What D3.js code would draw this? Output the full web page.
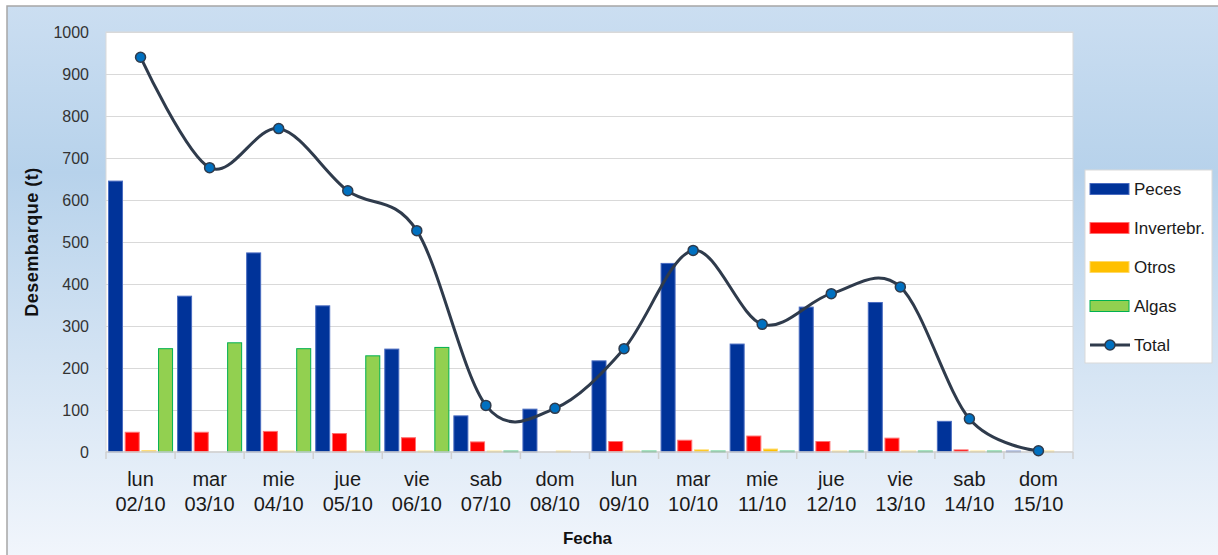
<!DOCTYPE html>
<html>
<head>
<meta charset="utf-8">
<script src="https://cdn.jsdelivr.net/npm/d3@7"></script>
<style>
  body { margin: 0; background: #fff; }
  text { font-family: "Liberation Sans", Arial, sans-serif; }
</style>
</head>
<body>
<div id="chart"></div>
<script>
// Chart dimensions
const width = 1218;
const height = 555;
const plotLeft = 106;
const plotRight = 1073;
const plotTop = 32;
const plotBottom = 452;

// Data
const days = ["lun", "mar", "mie", "jue", "vie", "sab", "dom", "lun", "mar", "mie", "jue", "vie", "sab", "dom"];
const dates = ["02/10", "03/10", "04/10", "05/10", "06/10", "07/10", "08/10", "09/10", "10/10", "11/10", "12/10", "13/10", "14/10", "15/10"];
const peces = [645, 371, 474, 348, 245, 86, 102, 217, 449, 257, 345, 356, 73, 2];
const invertebr = [47, 47, 49, 44, 34, 24, 0, 25, 28, 38, 25, 33, 5, 0];
const otros = [3, 0, 2, 2, 2, 2, 2, 2, 5, 7, 2, 2, 2, 2];
const algas = [246, 260, 246, 229, 249, 2, 0, 2, 2, 2, 2, 2, 2, 0];
const total = [940, 677, 770, 622, 527, 111, 104, 246, 480, 304, 377, 393, 79, 3];
const yTicks = [0, 100, 200, 300, 400, 500, 600, 700, 800, 900, 1000];

const seriesNames = ["Peces", "Invertebr.", "Otros", "Algas"];
const seriesValues = [peces, invertebr, otros, algas];
const seriesFill = ["#003399", "#ff0000", "#ffc000", "#92d050"];
const seriesStroke = ["#4a6cc0", "#ff7070", "#ffd966", "#00b050"];

const svg = d3.select("#chart")
  .append("svg")
  .attr("width", width)
  .attr("height", height)
  .attr("viewBox", [0, 0, width, height]);

// Background gradient of the chart area
const defs = svg.append("defs");
const grad = defs.append("linearGradient")
  .attr("id", "bg")
  .attr("x1", 0).attr("y1", 0).attr("x2", 0).attr("y2", 1);
grad.append("stop").attr("offset", "0%").attr("stop-color", "#cbdef1");
grad.append("stop").attr("offset", "30%").attr("stop-color", "#b7d2eb");
grad.append("stop").attr("offset", "100%").attr("stop-color", "#f2f6fc");

svg.append("rect")
  .attr("x", 7).attr("y", 6)
  .attr("width", width).attr("height", height)
  .attr("fill", "url(#bg)")
  .attr("stroke", "#a6a6a6")
  .attr("stroke-width", 1.5);

// Plot area
svg.append("rect")
  .attr("x", plotLeft).attr("y", plotTop)
  .attr("width", plotRight - plotLeft).attr("height", plotBottom - plotTop)
  .attr("fill", "#fff")
  .attr("stroke", "#d9d9d9");

// Scales
const x = d3.scaleBand()
  .domain(d3.range(days.length))
  .range([plotLeft, plotRight]);

const xInner = d3.scaleBand()
  .domain(seriesNames)
  .range([0, x.bandwidth()])
  .paddingInner(0.16)
  .paddingOuter(0.15);

const y = d3.scaleLinear()
  .domain([0, 1000])
  .range([plotBottom, plotTop]);

// Horizontal grid lines
svg.append("g")
  .selectAll("line")
  .data(yTicks.filter(d => d > 0))
  .join("line")
  .attr("x1", plotLeft)
  .attr("x2", plotRight)
  .attr("y1", d => y(d) + 0.5)
  .attr("y2", d => y(d) + 0.5)
  .attr("stroke", "#d9d9d9")
  .attr("stroke-width", 1.2);

// Y axis labels
const yAxis = svg.append("g")
  .attr("transform", `translate(${plotLeft},0)`)
  .call(d3.axisLeft(y).tickValues(yTicks).tickFormat(d3.format("d")).tickSize(0).tickPadding(17));
yAxis.select(".domain").remove();
yAxis.selectAll(".tick text")
  .attr("fill", "#333")
  .style("font-size", "16px")
  .style("font-family", "Liberation Sans, Arial, sans-serif");

// Bars
seriesNames.forEach((name, s) => {
  svg.append("g")
    .selectAll("rect")
    .data(seriesValues[s])
    .join("rect")
    .attr("x", (d, i) => x(i) + xInner(name))
    .attr("y", d => y(d))
    .attr("width", xInner.bandwidth())
    .attr("height", d => y(0) - y(d))
    .attr("fill", seriesFill[s])
    .attr("stroke", d => d > 0 ? seriesStroke[s] : "none")
    .attr("stroke-width", 1);
});

// X axis (category boundaries ticks)
const boundaries = d3.range(days.length + 1).map(i => plotLeft + i * x.step());
svg.append("line")
  .attr("x1", plotLeft).attr("x2", plotRight)
  .attr("y1", plotBottom).attr("y2", plotBottom)
  .attr("stroke", "#d0d0d0")
  .attr("stroke-width", 1.5);
svg.append("g")
  .selectAll("line")
  .data(boundaries)
  .join("line")
  .attr("x1", d => d).attr("x2", d => d)
  .attr("y1", plotBottom).attr("y2", plotBottom + 7)
  .attr("stroke", "#d0d0d0")
  .attr("stroke-width", 1.5);

const xLabels = svg.append("g")
  .selectAll("text")
  .data(days)
  .join("text")
  .attr("x", (d, i) => x(i) + x.bandwidth() / 2)
  .attr("text-anchor", "middle")
  .attr("fill", "#1a1a1a")
  .style("font-size", "20px");
xLabels.append("tspan").attr("x", (d, i) => x(i) + x.bandwidth() / 2).attr("y", 486).text(d => d);
xLabels.append("tspan").attr("x", (d, i) => x(i) + x.bandwidth() / 2).attr("y", 511).text((d, i) => dates[i]);

// Total line (smoothed)
const line = d3.line()
  .curve(d3.curveCardinal.tension(0))
  .x((d, i) => x(i) + x.bandwidth() / 2)
  .y(d => y(d));

svg.append("path")
  .datum(total)
  .attr("fill", "none")
  .attr("stroke", "#2f3b4c")
  .attr("stroke-width", 3)
  .attr("d", line);

svg.append("g")
  .selectAll("circle")
  .data(total)
  .join("circle")
  .attr("cx", (d, i) => x(i) + x.bandwidth() / 2)
  .attr("cy", d => y(d))
  .attr("r", 5)
  .attr("fill", "#0070c0")
  .attr("stroke", "#2f3b4c")
  .attr("stroke-width", 1.5);

// Axis titles
svg.append("text")
  .attr("transform", `translate(38, ${(plotTop + plotBottom) / 2}) rotate(-90)`)
  .attr("text-anchor", "middle")
  .attr("fill", "#111")
  .style("font-size", "18px")
  .style("letter-spacing", "0.5px")
  .style("font-weight", "bold")
  .text("Desembarque (t)");

svg.append("text")
  .attr("x", (plotLeft + plotRight) / 2 - 2)
  .attr("y", 544)
  .attr("text-anchor", "middle")
  .attr("fill", "#111")
  .style("font-size", "17px")
  .style("font-weight", "bold")
  .text("Fecha");

// Legend
const legend = svg.append("g");
legend.append("rect")
  .attr("x", 1085).attr("y", 170)
  .attr("width", 127).attr("height", 193)
  .attr("fill", "#fff")
  .attr("stroke", "#d9d9d9");

const legendY = d => 189 + d * 39;
seriesNames.forEach((name, s) => {
  legend.append("rect")
    .attr("x", 1090).attr("y", legendY(s) - 5.5)
    .attr("width", 39).attr("height", 11)
    .attr("fill", seriesFill[s])
    .attr("stroke", seriesStroke[s]);
  legend.append("text")
    .attr("x", 1134).attr("y", legendY(s) + 6)
    .attr("fill", "#1a1a1a")
    .style("font-size", "17px")
    .text(name);
});
legend.append("line")
  .attr("x1", 1090).attr("x2", 1130)
  .attr("y1", legendY(4)).attr("y2", legendY(4))
  .attr("stroke", "#2f3b4c").attr("stroke-width", 3);
legend.append("circle")
  .attr("cx", 1110).attr("cy", legendY(4)).attr("r", 5)
  .attr("fill", "#0070c0").attr("stroke", "#2f3b4c").attr("stroke-width", 1.5);
legend.append("text")
  .attr("x", 1134).attr("y", legendY(4) + 6)
  .attr("fill", "#1a1a1a")
  .style("font-size", "17px")
  .text("Total");
</script>
</body>
</html>
